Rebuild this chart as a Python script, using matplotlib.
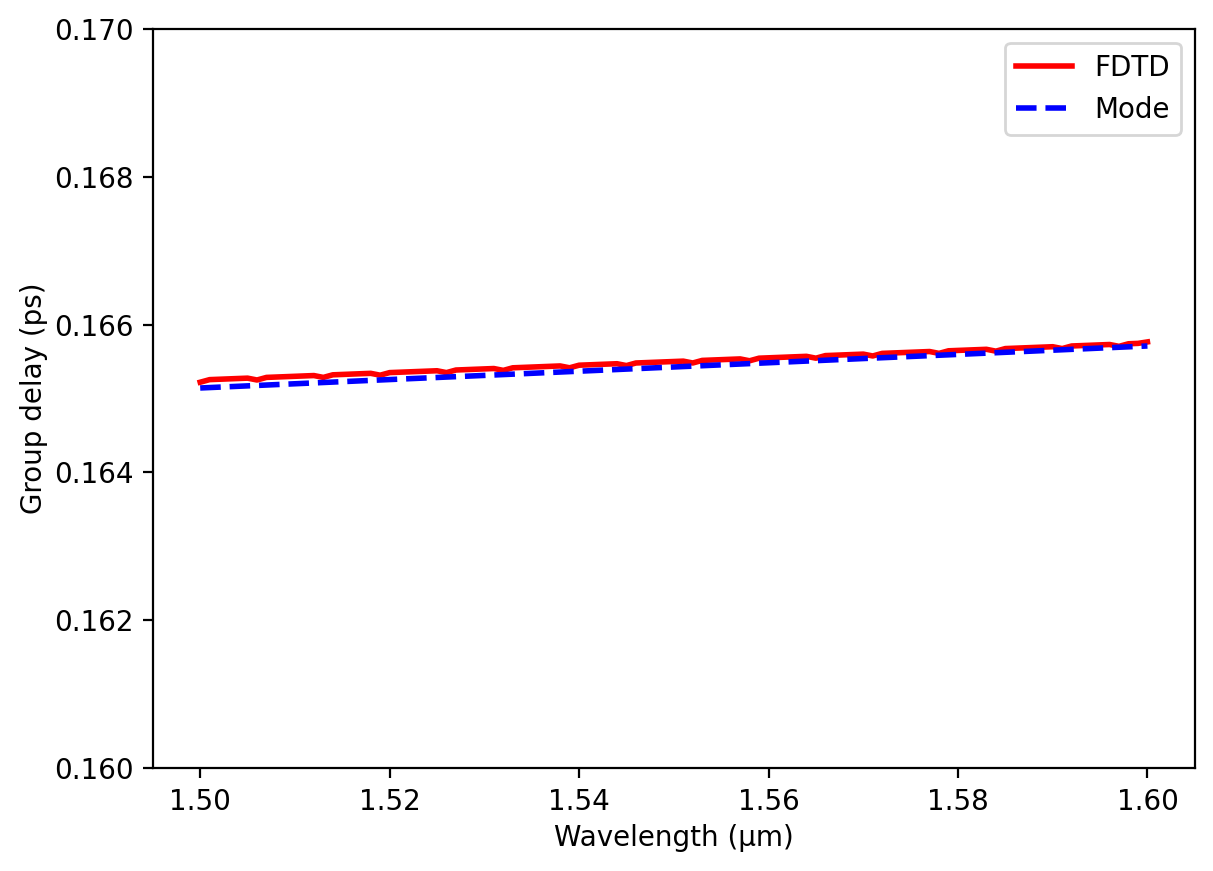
import numpy as np
import matplotlib
matplotlib.use("Agg")
import matplotlib.pyplot as plt

# FDTD group delay (ps), sampled every 1 nm from 1.50 to 1.60 um
fdtd_delay = [
    0.165220, 0.165255, 0.165260, 0.165265, 0.165270, 0.165275, 0.165250, 0.165285, 0.165290, 0.165295,
    0.165300, 0.165305, 0.165310, 0.165285, 0.165320, 0.165325, 0.165330, 0.165335, 0.165340, 0.165315,
    0.165350, 0.165355, 0.165360, 0.165365, 0.165370, 0.165375, 0.165350, 0.165385, 0.165390, 0.165395,
    0.165400, 0.165405, 0.165380, 0.165415, 0.165420, 0.165425, 0.165430, 0.165435, 0.165440, 0.165415,
    0.165450, 0.165455, 0.165460, 0.165465, 0.165470, 0.165445, 0.165480, 0.165485, 0.165490, 0.165495,
    0.165500, 0.165505, 0.165480, 0.165515, 0.165520, 0.165525, 0.165530, 0.165535, 0.165510, 0.165545,
    0.165550, 0.165555, 0.165560, 0.165565, 0.165570, 0.165545, 0.165580, 0.165585, 0.165590, 0.165595,
    0.165600, 0.165575, 0.165610, 0.165615, 0.165620, 0.165625, 0.165630, 0.165635, 0.165610, 0.165645,
    0.165650, 0.165655, 0.165660, 0.165665, 0.165640, 0.165675, 0.165680, 0.165685, 0.165690, 0.165695,
    0.165700, 0.165675, 0.165710, 0.165715, 0.165720, 0.165725, 0.165730, 0.165705, 0.165740, 0.165745,
    0.165765,
]
fdtd_wl = np.linspace(1.50, 1.60, len(fdtd_delay))

# Mode solver group delay (ps)
mode_wl = [1.50, 1.51, 1.52, 1.53, 1.54, 1.55, 1.56, 1.57, 1.58, 1.59, 1.60]
mode_delay = [0.165142, 0.165199, 0.165256, 0.165312, 0.165369, 0.165426,
              0.165483, 0.165540, 0.165596, 0.165653, 0.165710]

fig = plt.figure(figsize=(1213 / 200, 871 / 200), dpi=200)
ax = fig.add_subplot(111)
fig.subplots_adjust(left=0.126, right=0.985, bottom=0.118, top=0.967)

ax.plot(fdtd_wl, fdtd_delay, color='red', linewidth=2, label='FDTD')
ax.plot(mode_wl, mode_delay, color='blue', linestyle='--', linewidth=2, label='Mode')

ax.set_ylim(0.160, 0.170)
ax.set_xticks([1.50, 1.52, 1.54, 1.56, 1.58, 1.60])
ax.set_xlabel('Wavelength (µm)', labelpad=3)
ax.set_ylabel('Group delay (ps)', labelpad=2)
ax.legend(loc='upper right')

fig.savefig('out.png', dpi=200)
